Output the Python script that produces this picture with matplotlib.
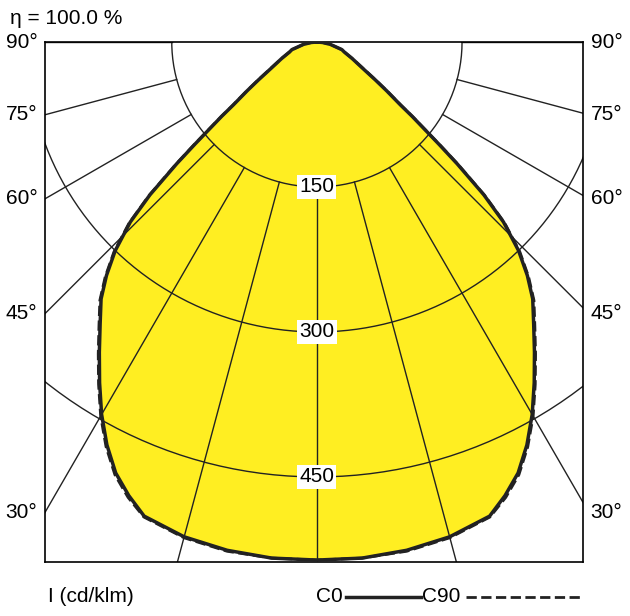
import numpy as np
import matplotlib
matplotlib.use("Agg")
import matplotlib.pyplot as plt

angles = [0, 5, 10, 15, 20, 22.5, 25, 27.5, 30, 32.5, 35, 37.5, 40, 42, 44, 46, 47.5, 49, 50, 52, 53, 55, 57, 60, 65, 70, 73, 80, 85, 90]
c0 = [536, 536, 534, 530, 522, 508, 492, 470, 445, 418, 392, 368, 347, 325, 300, 268, 234, 192, 165, 125, 108, 88, 72, 55, 40, 30, 27, 14, 6, 0]
c90 = [536, 536, 535, 531, 523, 510, 494, 472, 447, 420, 394, 370, 349, 327, 302, 270, 236, 194, 167, 126, 109, 89, 73, 56, 40, 30, 27, 14, 6, 0]
rings = [150, 300, 450]
spokes = [0, 15, 30, 45, 60, 75, 90]
side_labels = ["90°", "75°", "60°", "45°", "30°"]
side_angles = [90, 75, 60, 45, 30]

plt.rcParams['font.family'] = ['Liberation Sans Narrow', 'Liberation Sans', 'DejaVu Sans']
fig = plt.figure(figsize=(6.30, 6.16), dpi=100)
W, H = 630, 616
ax = fig.add_axes([45 / W, (616 - 562) / H, 538 / W, 520 / H])
xl, xr, yb = -281, 275, -538
ax.set_xlim(xl, xr)
ax.set_ylim(yb, 0)
ax.set_xticks([]); ax.set_yticks([])
for s in ax.spines.values():
    s.set_linewidth(1.2)

def curve(vals):
    a = np.radians(np.array(angles, float))
    r = np.array(vals, float)
    x = np.concatenate([-(r * np.sin(a))[::-1], (r * np.sin(a))[1:]])
    y = np.concatenate([-(r * np.cos(a))[::-1], -(r * np.cos(a))[1:]])
    return x, y

x0, y0 = curve(c0)
ax.fill(x0, y0, color='#ffee22', zorder=1)

t = np.linspace(0, 2 * np.pi, 400)
for r in rings:
    ax.plot(r * np.cos(t), r * np.sin(t), color='#222', lw=1, zorder=2)
for s in spokes:
    for sg in ([1] if s == 0 else [-1, 1]):
        a = np.radians(s)
        ax.plot([sg * 150 * np.sin(a), sg * 900 * np.sin(a)],
                [-150 * np.cos(a), -900 * np.cos(a)], color='#222', lw=1, zorder=2)

ax.plot(x0, y0, color='#222', lw=2.5, zorder=3, solid_joinstyle='round')
x9, y9 = curve(c90)
ax.plot(x9, y9, color='#222', lw=2, ls='--', zorder=3)

for r in rings:
    ax.text(0, -r, str(r), ha='center', va='center', fontsize=15, zorder=4,
            bbox=dict(facecolor='white', edgecolor='none', pad=1.5))

for lab, a in zip(side_labels, side_angles):
    ar = np.radians(a)
    yl = -(-xl) / np.tan(ar) if a != 90 else 0
    ax.text(xl - 8, yl, lab, ha='right', va='center', fontsize=15, clip_on=False)
    ax.text(xr + 8, yl, lab, ha='left', va='center', fontsize=15, clip_on=False)

fig.text(10 / W, 1 - 18 / H, "η = 100.0 %", fontsize=15, va='center', ha='left')
fig.text(48 / W, 1 - 597 / H, "I (cd/klm)", fontsize=15, va='center', ha='left')
fig.text(316 / W, 1 - 597 / H, "C0", fontsize=15, va='center', ha='left')
fig.add_artist(plt.Line2D([346 / W, 421 / W], [1 - 597 / H] * 2, color='#222', lw=2.5))
fig.text(422 / W, 1 - 597 / H, "C90", fontsize=15, va='center', ha='left')
fig.add_artist(plt.Line2D([466 / W, 582 / W], [1 - 597 / H] * 2, color='#222', lw=2, ls='--'))

fig.savefig("out.png", dpi=100)
